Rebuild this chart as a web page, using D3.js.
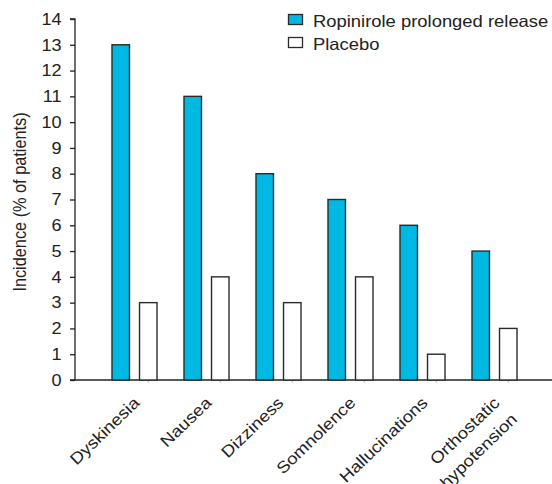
<!DOCTYPE html>
<html><head><meta charset="utf-8">
<script src="https://cdn.jsdelivr.net/npm/d3@7"></script>
<style>body{margin:0;background:#fff}svg{display:block;font-family:"Liberation Sans",Arial,sans-serif}</style>
</head><body>
<svg id="c" width="552" height="484"></svg>
<script>
const categories = [["Dyskinesia"],["Nausea"],["Dizziness"],["Somnolence"],["Hallucinations"],["Orthostatic","hypotension"]];
const ropinirole = [13, 11, 8, 7, 6, 5];
const placebo = [3, 4, 3, 4, 1, 2];
const yTicks = d3.range(0, 15);
const seriesNames = ["Ropinirole prolonged release", "Placebo"];
const colors = ["#00b9e3", "#ffffff"];

const SX = 1.13;   // horizontal text stretch seen in the reference
const FS = 16.3;
const svg = d3.select("#c");
const x = d3.scaleBand().domain(d3.range(categories.length)).range([98.5, 530.5]).padding(0);
const y = d3.scaleLinear().domain([0, 14]).range([380, 19]);
const inner = d3.scaleBand().domain([0,1]).range([0, x.bandwidth()]).paddingInner(0.364).paddingOuter(0.49);

// y axis
const yAxis = d3.axisLeft(y).tickValues(yTicks).tickSize(5).tickFormat("");
const ga = svg.append("g").attr("transform","translate(75,0)").call(yAxis);
ga.select(".domain").attr("stroke","#222").attr("stroke-width",1.3).attr("d","M-5,19H0V380");
ga.selectAll(".tick line").attr("stroke","#222").attr("stroke-width",1.3);
svg.append("g").selectAll("text").data(yTicks).join("text")
  .attr("transform", d => `translate(61.5,${y(d)}) scale(${SX},1)`)
  .attr("text-anchor","end").attr("dy","0.36em").attr("font-size",16).attr("fill","#222")
  .text(d => d);

// x axis line and faint ticks
svg.append("line").attr("x1",70).attr("x2",552).attr("y1",380).attr("y2",380).attr("stroke","#222").attr("stroke-width",1.5);
svg.append("g").selectAll("line").data(categories).join("line")
  .attr("x1",(d,i)=>x(i)+inner(1)+inner.bandwidth()/2).attr("x2",(d,i)=>x(i)+inner(1)+inner.bandwidth()/2)
  .attr("y1",381).attr("y2",383).attr("stroke","#bbb").attr("stroke-width",1);

// bars
const series = [ropinirole, placebo];
series.forEach((vals, s) => {
  svg.append("g").selectAll("rect").data(vals).join("rect")
    .attr("x", (d,i) => x(i) + inner(s))
    .attr("width", inner.bandwidth())
    .attr("y", d => y(d))
    .attr("height", d => y(0) - y(d))
    .attr("fill", colors[s]).attr("stroke","#2a2a2a").attr("stroke-width",1.4);
});

// x labels
categories.forEach((lines, i) => {
  const cx = x(i) + x.bandwidth()/2 + 6;
  const t = svg.append("text")
    .attr("transform", `translate(${cx},404) rotate(-44) scale(${SX},1)`)
    .attr("text-anchor","end").attr("font-size",FS).attr("fill","#222");
  lines.forEach((ln, k) => {
    t.append("tspan").attr("x", k === 0 ? 0 : 1.2).attr("y", k * 24).text(ln);
  });
});

// y title
svg.append("text").attr("transform",`translate(26,202) scale(${SX},1) rotate(-90)`).attr("text-anchor","middle")
  .attr("font-size",FS).attr("fill","#222").text("Incidence (% of patients)");

// legend
seriesNames.forEach((n, i) => {
  const yy = 14 + i*23;
  svg.append("rect").attr("x",288.5).attr("y",yy+0.5).attr("width",14).attr("height",10)
    .attr("fill",colors[i]).attr("stroke","#2a2a2a").attr("stroke-width",1.3);
  svg.append("text").attr("transform",`translate(313,${yy+12.5}) scale(${SX},1)`)
    .attr("font-size",FS).attr("fill","#222").text(n);
});
</script>
</body></html>
